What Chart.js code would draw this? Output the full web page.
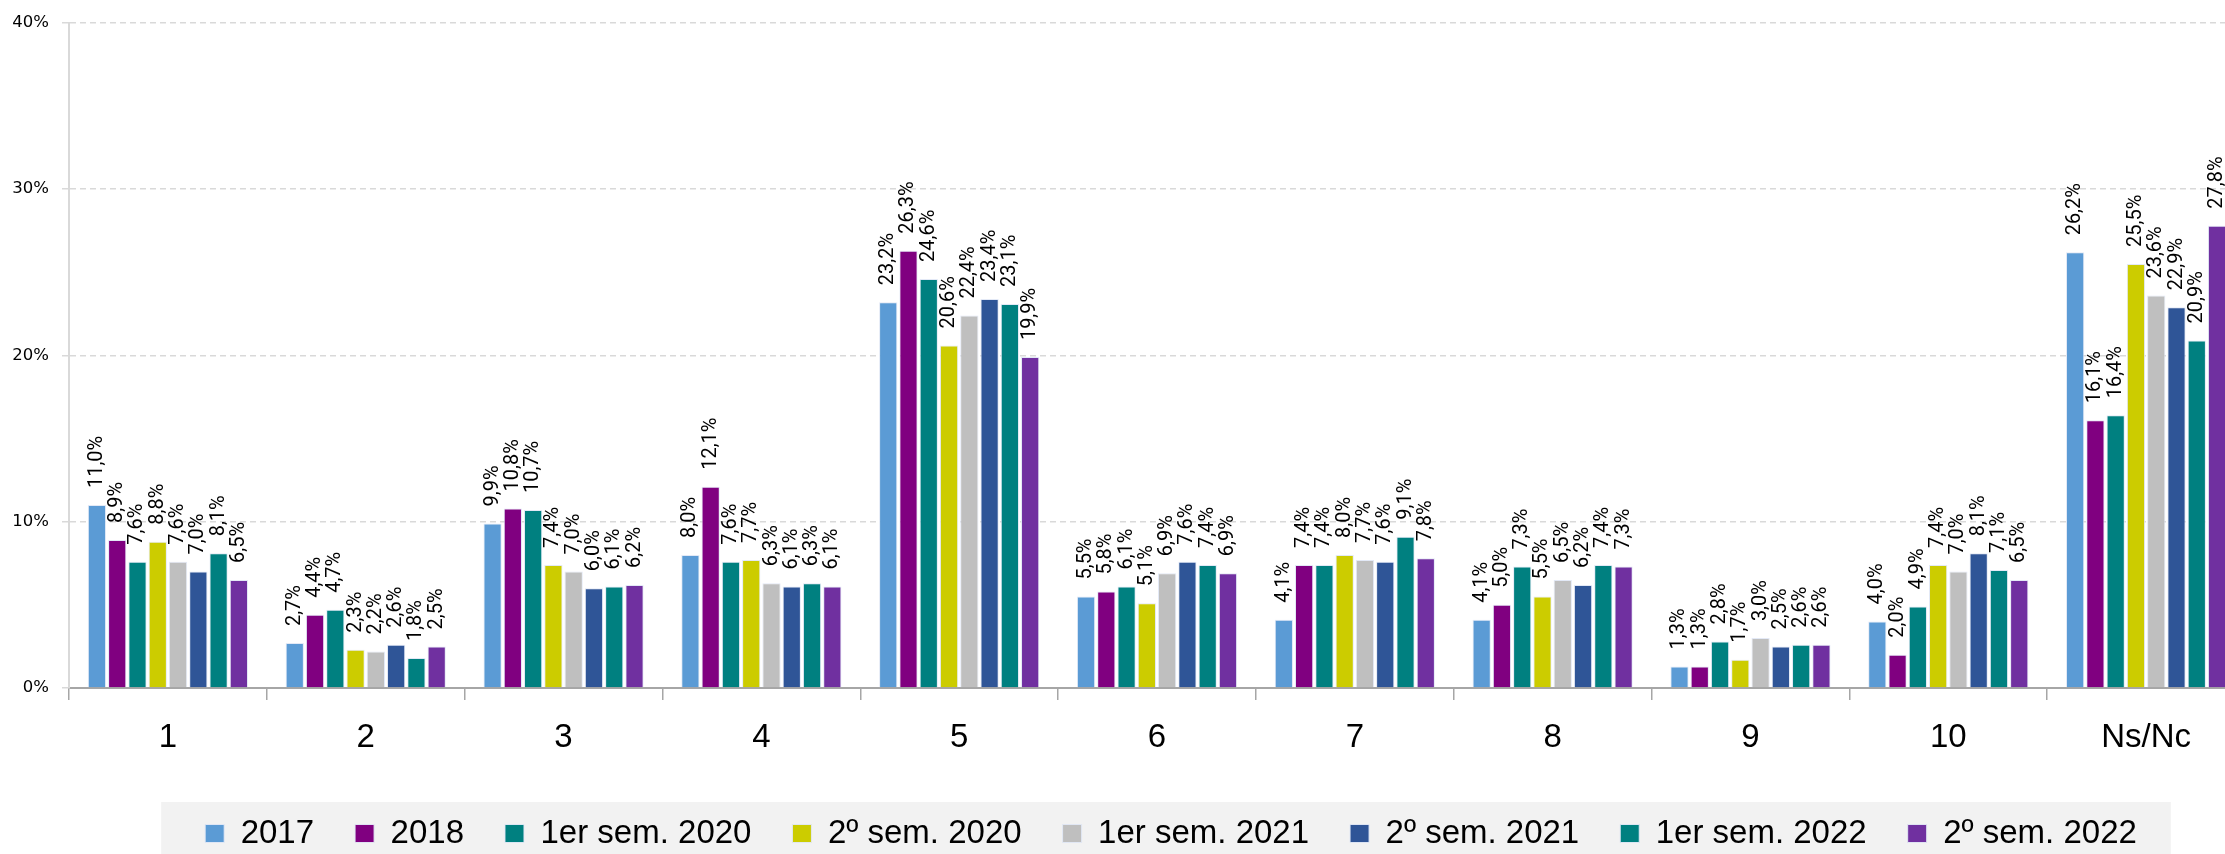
<!DOCTYPE html>
<html>
<head>
<meta charset="utf-8">
<script src="https://cdn.jsdelivr.net/npm/chart.js@4/dist/chart.umd.min.js"></script>
<style>
  html, body { margin: 0; padding: 0; background: #ffffff; overflow: hidden; }
  #wrap { position: relative; width: 2250px; height: 860px; }
</style>
</head>
<body>
<div id="wrap"><canvas id="chart"></canvas></div>
<script>
/* ---------- data ---------- */
const categories = ["1", "2", "3", "4", "5", "6", "7", "8", "9", "10", "Ns/Nc"];

const series = ["2017", "2018", "1er sem. 2020", "2º sem. 2020", "1er sem. 2021", "2º sem. 2021", "1er sem. 2022", "2º sem. 2022"];

const v2017   = [11.0, 2.7, 9.9, 8.0, 23.2, 5.5, 4.1, 4.1, 1.3, 4.0, 26.2];
const v2018   = [8.9, 4.4, 10.8, 12.1, 26.3, 5.8, 7.4, 5.0, 1.3, 2.0, 16.1];
const v2020a  = [7.6, 4.7, 10.7, 7.6, 24.6, 6.1, 7.4, 7.3, 2.8, 4.9, 16.4];
const v2020b  = [8.8, 2.3, 7.4, 7.7, 20.6, 5.1, 8.0, 5.5, 1.7, 7.4, 25.5];
const v2021a  = [7.6, 2.2, 7.0, 6.3, 22.4, 6.9, 7.7, 6.5, 3.0, 7.0, 23.6];
const v2021b  = [7.0, 2.6, 6.0, 6.1, 23.4, 7.6, 7.6, 6.2, 2.5, 8.1, 22.9];
const v2022a  = [8.1, 1.8, 6.1, 6.3, 23.1, 7.4, 9.1, 7.4, 2.6, 7.1, 20.9];
const v2022b  = [6.5, 2.5, 6.2, 6.1, 19.9, 6.9, 7.8, 7.3, 2.6, 6.5, 27.8];

const seriesValues = [v2017, v2018, v2020a, v2020b, v2021a, v2021b, v2022a, v2022b];
const seriesColors = ["#5B9BD5", "#800080", "#008080", "#CCCC00", "#BFBFBF", "#2F5597", "#008080", "#7030A0"];

const yTicks = [0, 10, 20, 30, 40];

/* ---------- plugins ---------- */

// vertical value labels above every bar
const valueLabels = {
    id: "valueLabels",
    afterDatasetsDraw(chart){
        const ctx = chart.ctx;
        ctx.save();
        ctx.font = "20px Roboto";
        ctx.fillStyle = "#000000";
        ctx.textAlign = "left";
        ctx.textBaseline = "middle";
        chart.data.datasets.forEach((ds, i) => {
            const meta = chart.getDatasetMeta(i);
            meta.data.forEach((bar, j) => {
                const txt = ds.data[j].toFixed(1).replace(".", ",") + "%";
                ctx.save();
                ctx.translate(bar.x, bar.y - 17);
                ctx.rotate(-Math.PI / 2);
                ctx.fillText(txt, 0, 0);
                ctx.restore();
            });
        });
        ctx.restore();
    }
};

// grey band behind the legend (legend nudged a bit to the right, like the original)
const legendBackground = {
    id: "legendBackground",
    afterLayout(chart){
        if(!chart.legend) return;
        chart.legend.left += 14;
        chart.legend.right += 14;
    },
    beforeDraw(chart){
        const boxes = chart.legend && chart.legend.legendHitBoxes;
        if(!boxes || !boxes.length) return;
        const first = boxes[0];
        const last = boxes[boxes.length - 1];
        const ctx = chart.ctx;
        ctx.save();
        ctx.fillStyle = "#F2F2F2";
        const left = first.left - 44;
        const right = last.left + last.width + 34;
        ctx.fillRect(left, first.top - 15, right - left, chart.height);
        ctx.restore();
    }
};

/* ---------- chart ---------- */

new Chart(document.getElementById("chart"), {
    type: "bar",
    data: {
        labels: categories,
        datasets: series.map((name, i) => ({
            label: name,
            data: seriesValues[i],
            backgroundColor: seriesColors[i],
            borderColor: "rgba(225,232,245,0.95)",
            borderWidth: 1,
            categoryPercentage: 0.82,
            barPercentage: 0.9
        }))
    },
    options: {
        responsive: true,
        maintainAspectRatio: false,
        animation: false,
        layout: {
            padding: { left: 11, right: 5, top: 3, bottom: 0 }
        },
        plugins: {
            tooltip: { enabled: false },
            legend: {
                position: "bottom",
                fullSize: false,
                labels: {
                    boxWidth: 19,
                    boxHeight: 18,
                    padding: 41,
                    color: "#000000",
                    font: { family: "'Liberation Sans', Arial, sans-serif", size: 33 }
                }
            }
        },
        scales: {
            x: {
                grid: {
                    display: true,
                    drawOnChartArea: false,
                    drawTicks: true,
                    offset: true,
                    tickLength: 12,
                    color: "#A6A6A6",
                    lineWidth: 1.5
                },
                border: { color: "#A6A6A6", width: 2 },
                ticks: {
                    color: "#000000",
                    padding: 18,
                    font: { family: "'Liberation Sans', Arial, sans-serif", size: 33 }
                },
                afterFit(scale){
                    scale.height = 88;
                }
            },
            y: {
                min: 0,
                max: 40,
                afterBuildTicks(scale){
                    scale.ticks = yTicks.map(v => ({ value: v }));
                },
                grid: {
                    color: "#D9D9D9",
                    lineWidth: 1.5,
                    tickLength: 7,
                    tickBorderDash: [6, 4]
                },
                border: { color: "#D9D9D9", width: 2, dash: [6, 4] },
                ticks: {
                    color: "#000000",
                    padding: 13,
                    font: { family: "'DejaVu Sans', sans-serif", size: 16.5 },
                    callback: v => v + "%"
                },
                afterFit(scale){
                    scale.width = 58;
                }
            }
        }
    },
    plugins: [legendBackground, valueLabels]
});
</script>
</body>
</html>
